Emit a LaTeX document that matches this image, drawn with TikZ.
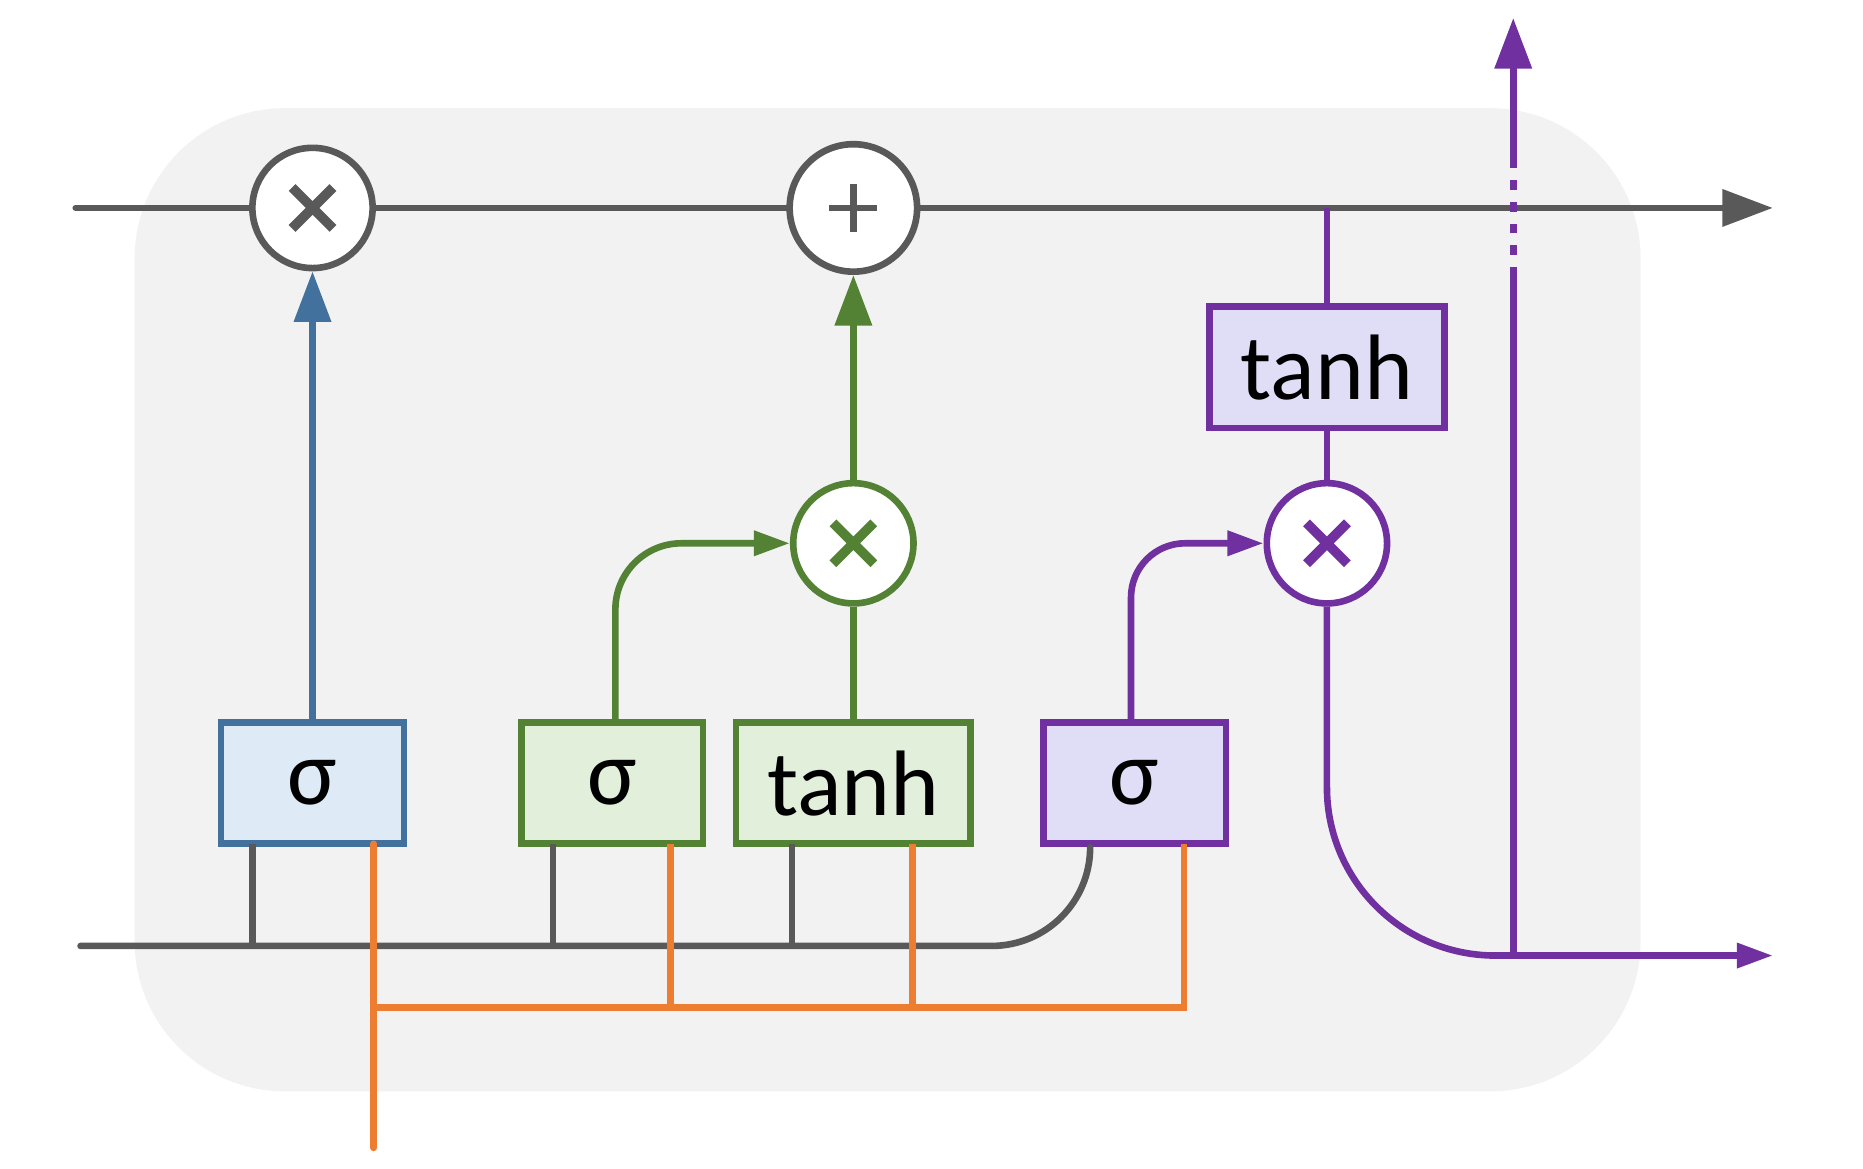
\documentclass[tikz,border=0pt]{standalone}
\usepackage{fontspec}
\setmainfont{Carlito}
\usetikzlibrary{arrows.meta,calc}
\definecolor{gr}{HTML}{595959}
\definecolor{bl}{HTML}{41719C}
\definecolor{gn}{HTML}{548235}
\definecolor{pu}{HTML}{7030A0}
\definecolor{og}{HTML}{ED7D31}
\definecolor{blf}{HTML}{DEEBF7}
\definecolor{gnf}{HTML}{E2EFDA}
\definecolor{puf}{HTML}{E0DEF6}
\begin{document}
\begin{tikzpicture}[x=0.01cm,y=-0.01cm,line width=0.055cm,
  box/.style={draw,minimum height=1.01cm,inner sep=0pt,font=\fontsize{22}{26}\selectfont},
  op/.style={draw=#1,circle,fill=white,inner sep=0pt},
  tip/.style={-{Triangle[length=0.42cm,width=0.3cm]}},
  stip/.style={-{Triangle[length=0.3cm,width=0.2cm]}}]
\useasboundingbox (0,0) rectangle (1550,972);
\fill[gray!10,rounded corners=1.25cm] (112,90) rectangle (1365,908);
% top line
\coordinate (tl) at (63,173); \coordinate (tr) at (1475,173);
\draw[gr,tip,line cap=round] (tl) -- (tr);
\node[op=gr,minimum size=1.0cm] (m1) at (260,173) {};
\node[op=gr,minimum size=1.06cm] (p1) at (710,173) {};
\draw[gr,line width=0.08cm] ($(m1)+(-17,-17)$) -- ($(m1)+(17,17)$) ($(m1)+(-17,17)$) -- ($(m1)+(17,-17)$);
\draw[gr,line width=0.055cm] ($(p1)+(-20,0)$) -- ($(p1)+(20,0)$) ($(p1)+(0,-20)$) -- ($(p1)+(0,20)$);
% boxes
\node[box,draw=bl,fill=blf,minimum width=1.52cm] (s1) at (260,651.5) {σ};
\node[box,draw=gn,fill=gnf,minimum width=1.51cm] (s2) at (509.5,651.5) {σ};
\node[box,draw=gn,fill=gnf,minimum width=1.95cm] (t2) at (710,651.5) {tanh};
\node[box,draw=pu,fill=puf,minimum width=1.52cm] (s3) at (944,651.5) {σ};
\node[box,draw=pu,fill=puf,minimum width=1.95cm] (t3) at (1104,305.5) {tanh};
\node[op=gn,minimum size=1.0cm] (m2) at (710,452) {};
\node[op=pu,minimum size=1.0cm] (m3) at (1104,452) {};
\draw[gn,line width=0.08cm] ($(m2)+(-17,-17)$) -- ($(m2)+(17,17)$) ($(m2)+(-17,17)$) -- ($(m2)+(17,-17)$);
\draw[pu,line width=0.08cm] ($(m3)+(-17,-17)$) -- ($(m3)+(17,17)$) ($(m3)+(-17,17)$) -- ($(m3)+(17,-17)$);
% blue
\draw[bl,tip] (s1.north) -- (m1.south);
% green
\draw[gn] (t2.north) -- (m2.south);
\draw[gn,tip] (m2.north) -- (p1.south);
\draw[gn,stip,rounded corners=0.55cm] (512,601) -- (512,452) -- (m2.west);
% purple
\draw[pu] (t3.north) -- (1104,173);
\draw[pu] (t3.south) -- (m3.north);
\draw[pu,stip,rounded corners=0.45cm] (941,601) -- (941,452) -- (m3.west);
\coordinate (j) at (1259,795); \coordinate (br) at (1475,795); \coordinate (tt) at (1259,15);
\draw[pu] (m3.south) -- (1104,655) arc[start angle=180,end angle=90,radius=140] -- (j);
\draw[pu,stip] (j) -- (br);
\draw[pu] (j) -- (1259,230);
\draw[pu,dash pattern=on 0.08cm off 0.1cm] (1259,230) -- (1259,140);
\draw[pu,tip] (1259,140) -- (tt);
% bottom gray
\draw[gr,line cap=round] (67,787) -- (825,787) arc[start angle=90,end angle=0,radius=82];
\foreach \x in {210,460,659} \draw[gr] (\x,702) -- (\x,787);
% orange
\draw[og,line cap=round] (311,702) -- (311,955);
\draw[og] (311,838) -- (985,838) -- (985,702);
\foreach \x in {558,759} \draw[og] (\x,702) -- (\x,838);
\end{tikzpicture}
\end{document}
